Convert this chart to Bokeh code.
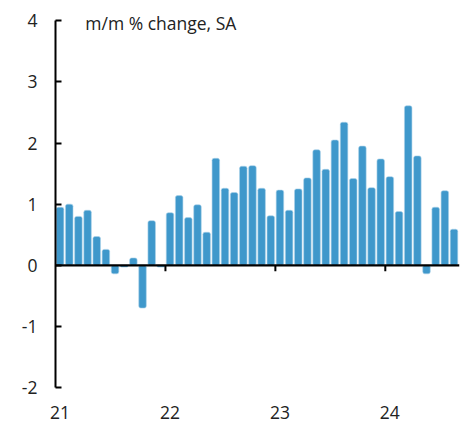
import math
from bokeh.plotting import figure
from bokeh.models import Range1d, FixedTicker, Label, Span, LinearAxis
from bokeh.embed import file_html
from bokeh.resources import INLINE

# Monthly m/m % change, SA: Jan 2021 .. Aug 2024
values_2021 = [0.95, 1.00, 0.80, 0.90, 0.47, 0.26, -0.14, -0.03, 0.12, -0.70, 0.73, -0.03]
values_2022 = [0.86, 1.14, 0.78, 0.99, 0.54, 1.75, 1.26, 1.19, 1.62, 1.63, 1.26, 0.81]
values_2023 = [1.23, 0.90, 1.25, 1.43, 1.89, 1.57, 2.05, 2.34, 1.42, 1.95, 1.27, 1.74]
values_2024 = [1.45, 0.88, 2.61, 1.79, -0.14, 0.95, 1.22, 0.59]
year_labels = ["21", "22", "23", "24"]
y_ticks = [-2, -1, 0, 1, 2, 3, 4]
y_tick_labels = ["-2", "-1", "0", "1", "2", "3", "4"]
title_text = "m/m % change, SA"

values = values_2021 + values_2022 + values_2023 + values_2024
months = list(range(len(values)))
centers = [m + 0.5 for m in months]
year_starts = [12 * i for i in range(len(year_labels))]

FONT = "Open Sans"
FS = "17.5px"
BAR = "#3f98cb"
TXT = "#222222"

p = figure(width=462, height=422, output_backend="svg", toolbar_location=None,
           x_range=Range1d(0, 44.1), y_range=Range1d(-2, 4.3),
           min_border_left=55, min_border_right=3, min_border_top=2, min_border_bottom=35,
           x_axis_type=None)
p.outline_line_color = None
p.grid.visible = False
p.background_fill_color = "white"
p.border_fill_color = "white"

p.vbar(x=centers, top=values, bottom=0, width=0.82, fill_color=BAR,
       line_color="#a9d2ea", line_width=0.6, border_radius=2)

# zero line with year ticks
p.add_layout(Span(location=0, dimension="width", line_color="black", line_width=2.2))
p.ray(x=year_starts[1:], y=[0] * (len(year_starts) - 1), length=6, length_units="screen",
      angle=-math.pi / 2, line_color="black", line_width=2)

# year labels at bottom
lab_axis = LinearAxis(ticker=FixedTicker(ticks=[s + 0.5 for s in year_starts]),
                      major_label_overrides={s + 0.5: l for s, l in zip(year_starts, year_labels)})
lab_axis.axis_line_color = None
lab_axis.major_tick_line_color = None
lab_axis.minor_tick_line_color = None
lab_axis.major_label_text_font = FONT
lab_axis.major_label_text_font_size = FS
lab_axis.major_label_text_color = TXT
lab_axis.major_label_standoff = 12
p.add_layout(lab_axis, "below")

ya = p.yaxis[0]
ya.ticker = FixedTicker(ticks=y_ticks)
ya.major_label_overrides = {t: l for t, l in zip(y_ticks, y_tick_labels)}
ya.bounds = (-2, 4)
ya.axis_line_width = 2
ya.axis_line_color = "black"
ya.major_tick_in = 6
ya.major_tick_out = 0
ya.major_tick_line_width = 2
ya.minor_tick_line_color = None
ya.major_label_text_font = FONT
ya.major_label_text_font_size = FS
ya.major_label_text_color = TXT
ya.major_label_standoff = 18

p.add_layout(Label(x=3.25, y=3.97, text=title_text, text_font=FONT, text_font_size=FS,
                   text_baseline="middle", text_color=TXT))

open("out.html", "w").write(file_html(p, INLINE))
